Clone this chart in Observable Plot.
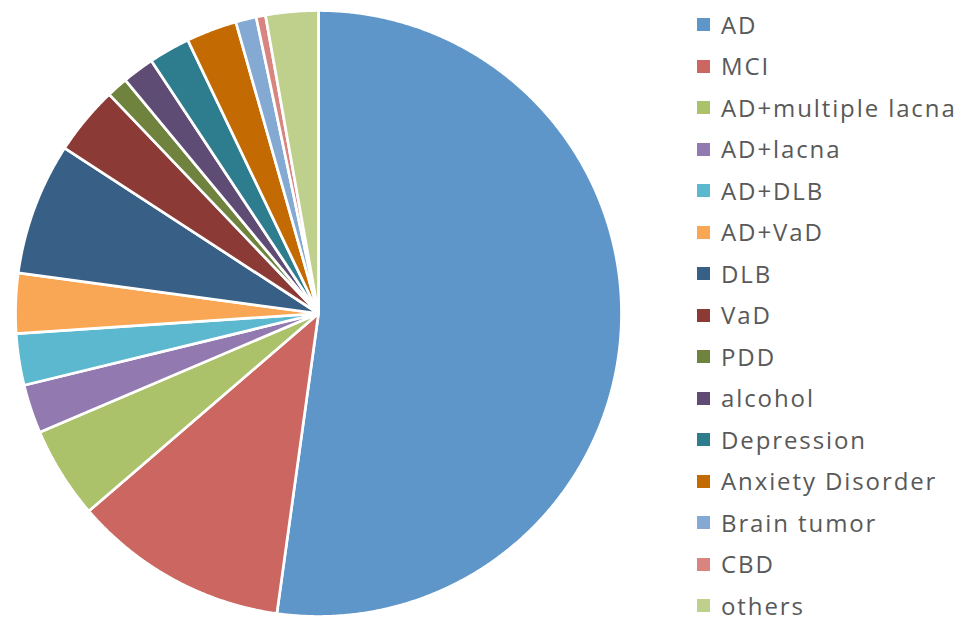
<!DOCTYPE html>
<html>
<head>
<meta charset="utf-8">
<script src="https://cdn.jsdelivr.net/npm/d3@7"></script>
<script src="https://cdn.jsdelivr.net/npm/@observablehq/plot@0.6"></script>
<style>
  html, body { margin: 0; padding: 0; background: #fff; }
  #wrap { position: relative; width: 961px; height: 622px; overflow: hidden; }
  #chart { position: absolute; left: 0; top: 0; }
  #legend { position: absolute; left: 697px; top: 4px; }
  .lg-swatches { margin: 0 !important; font-family: "Open Sans", sans-serif; font-size: 24px; color: #595959; }
  .lg-swatch { height: 41.5px; display: flex; align-items: center; padding-bottom: 0 !important; }
  .lg-swatch svg { margin-right: 11px !important; }
  .lg-swatch-label { line-height: 1; letter-spacing: 1.9px; overflow: visible !important; }
</style>
</head>
<body>
<div id="wrap">
  <div id="chart"></div>
  <div id="legend"></div>
</div>
<script>
const categories = ["AD", "MCI", "AD+multiple lacna", "AD+lacna", "AD+DLB", "AD+VaD", "DLB", "VaD", "PDD", "alcohol", "Depression", "Anxiety Disorder", "Brain tumor", "CBD", "others"];
const values = [52.2, 11.5, 4.9, 2.6, 2.75, 3.2, 7.05, 3.67, 1.14, 1.7, 2.2, 2.7, 1.1, 0.5, 2.8];
const palette = ["#5F96CA", "#CC6660", "#ABC26B", "#927AB0", "#5BB8CF", "#F9A655", "#386087", "#8B3A36", "#6F823E", "#5E4C74", "#2E7D8F", "#C46A03", "#84AAD4", "#D8847F", "#BED08C"];

const rows = categories.map((name, i) => ({name, value: values[i]}));
const arcs = d3.pie().sort(null).value(d => d.value)(rows);

// Slice polygons in unit coordinates (angle clockwise from 12 o'clock, y down)
const features = arcs.map(a => {
  const n = Math.max(4, Math.ceil((a.endAngle - a.startAngle) / 0.005));
  const ring = [[0, 0]];
  for (let k = 0; k <= n; ++k) {
    const t = a.startAngle + (a.endAngle - a.startAngle) * k / n;
    ring.push([Math.sin(t), -Math.cos(t)]);
  }
  ring.push([0, 0]);
  return {type: "Feature", properties: {name: a.data.name}, geometry: {type: "Polygon", coordinates: [ring]}};
});
const frameDomain = {type: "Polygon", coordinates: [[[-1, -1], [1, -1], [1, 1], [-1, 1], [-1, -1]]]};

const plot = Plot.plot({
  width: 636,
  height: 622,
  marginLeft: 15,
  marginRight: 15,
  marginTop: 10,
  marginBottom: 6,
  projection: {type: "identity", domain: frameDomain},
  color: {type: "categorical", domain: categories, range: palette},
  marks: [
    Plot.geo(features, {fill: d => d.properties.name, stroke: "#fff", strokeWidth: 2.7, strokeLinejoin: "round"})
  ]
});
document.getElementById("chart").appendChild(plot);

const legend = plot.legend("color", {columns: 1, swatchSize: 13, className: "lg"});
document.getElementById("legend").appendChild(legend);
</script>
</body>
</html>
